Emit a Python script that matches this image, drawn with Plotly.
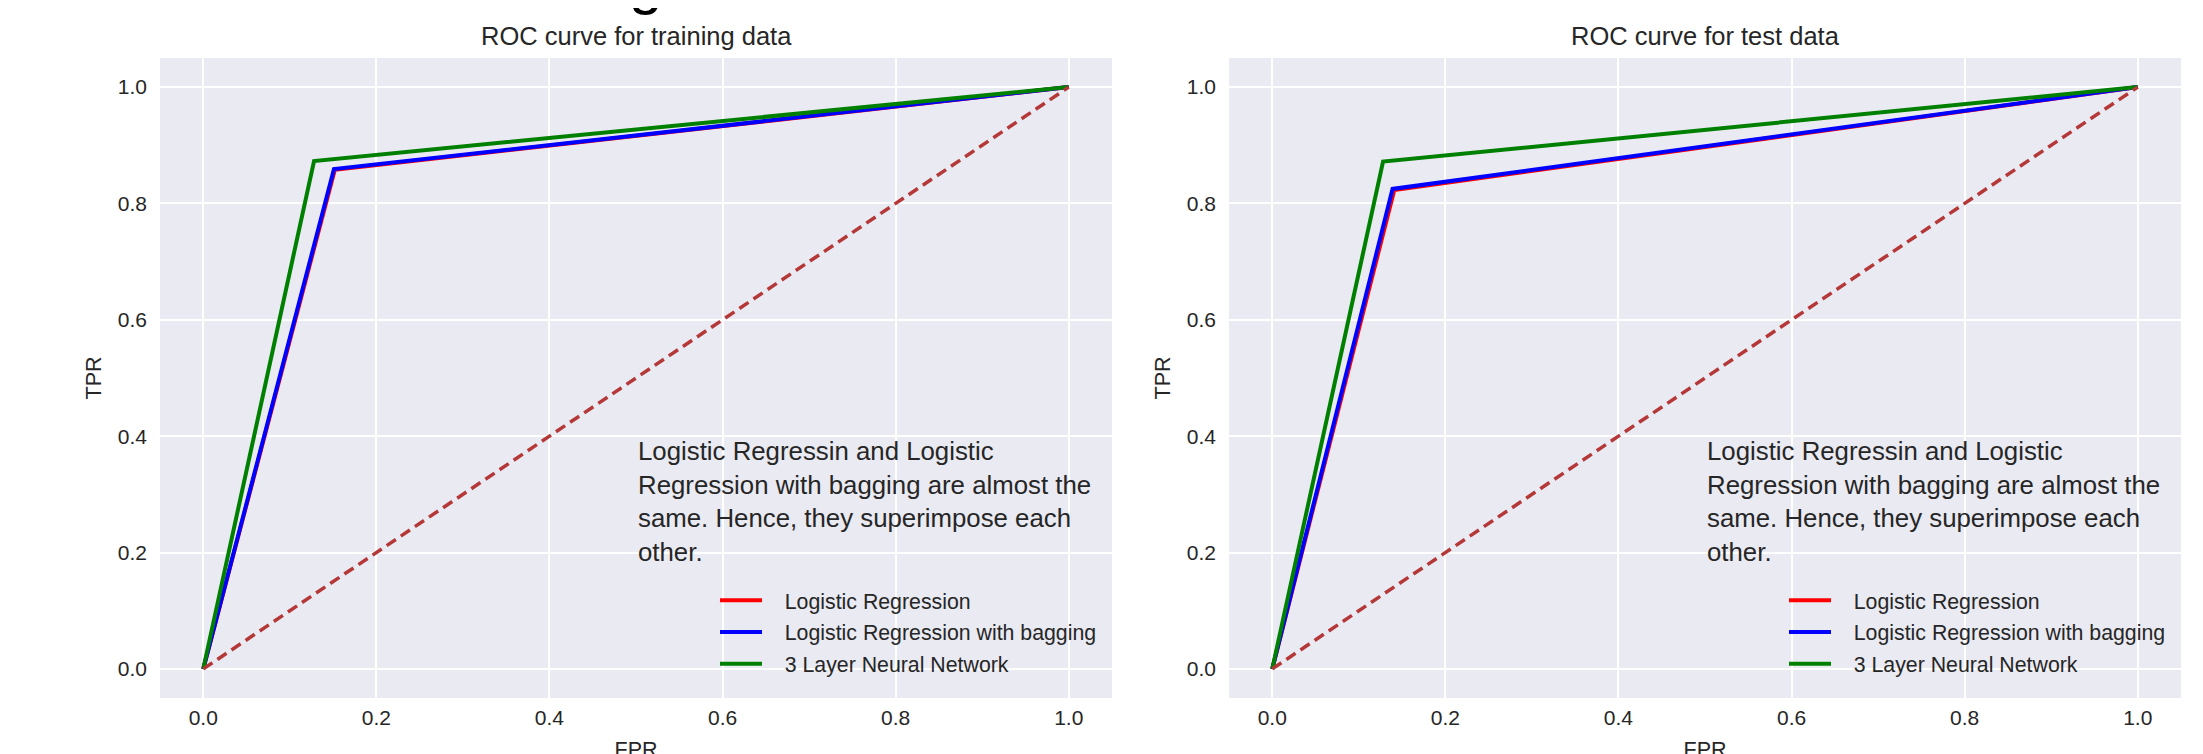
import plotly.graph_objects as go

# ---------------- data ----------------
panel_titles = ["ROC curve for training data", "ROC curve for test data"]
series_names = ["Logistic Regression", "Logistic Regression with bagging", "3 Layer Neural Network"]
series_colors = ["#ff0000", "#0000ff", "#008000"]

train_fpr_lr = [0.0, 0.152, 1.0]
train_tpr_lr = [0.0, 0.858, 1.0]
train_fpr_lrb = [0.0, 0.151, 1.0]
train_tpr_lrb = [0.0, 0.859, 1.0]
train_fpr_nn = [0.0, 0.128, 1.0]
train_tpr_nn = [0.0, 0.873, 1.0]

test_fpr_lr = [0.0, 0.141, 1.0]
test_tpr_lr = [0.0, 0.823, 1.0]
test_fpr_lrb = [0.0, 0.139, 1.0]
test_tpr_lrb = [0.0, 0.825, 1.0]
test_fpr_nn = [0.0, 0.128, 1.0]
test_tpr_nn = [0.0, 0.872, 1.0]

chance_x = [0.0, 1.0]
chance_y = [0.0, 1.0]

tick_vals = [0.0, 0.2, 0.4, 0.6, 0.8, 1.0]
tick_text = ["0.0", "0.2", "0.4", "0.6", "0.8", "1.0"]

note_lines = [
    "Logistic Regressin and Logistic",
    "Regression with bagging are almost the",
    "same. Hence, they superimpose each",
    "other.",
]
note_x, note_y = 0.5, 0.288

# ---------------- figure ----------------
W, H = 2203, 754
OFF = 8  # page body margin around the plot div
FONT = "Liberation Sans, Arial, Helvetica, sans-serif"
TXT = "#262626"
GAP = "\u00a0\u00a0\u00a0"

fig = go.Figure()

panels = [
    ("x", "y", "legend",
     [(train_fpr_lr, train_tpr_lr), (train_fpr_lrb, train_tpr_lrb), (train_fpr_nn, train_tpr_nn)]),
    ("x2", "y2", "legend2",
     [(test_fpr_lr, test_tpr_lr), (test_fpr_lrb, test_tpr_lrb), (test_fpr_nn, test_tpr_nn)]),
]

for xa, ya, leg, curves in panels:
    for i, (fx, ty) in enumerate(curves):
        fig.add_trace(go.Scatter(
            x=fx, y=ty, mode="lines", name=GAP + series_names[i],
            line=dict(color=series_colors[i], width=4),
            xaxis=xa, yaxis=ya, legend=leg, legendgroup=f"{leg}_{i}",
            hoverinfo="skip",
        ))
    fig.add_trace(go.Scatter(
        x=chance_x, y=chance_y, mode="lines", showlegend=False,
        line=dict(color="#b53838", width=3.5, dash="11px,6px"),
        xaxis=xa, yaxis=ya, hoverinfo="skip",
    ))

def px_x(p):
    return (p - OFF) / W

def px_y(p):
    return 1 - (p - OFF) / H

xdom1 = [px_x(160), px_x(1112)]
xdom2 = [px_x(1229), px_x(2181)]
ydom = [px_y(698), px_y(58)]

axis_common = dict(
    range=[-0.05, 1.05], showgrid=True, gridcolor="white", gridwidth=1.8,
    zeroline=False, showline=False, ticks="", tickvals=tick_vals, ticktext=tick_text,
    tickfont=dict(family=FONT, size=21, color=TXT), automargin=False,
)

legend_common = dict(
    xanchor="left", yanchor="top", bgcolor="rgba(0,0,0,0)", borderwidth=0,
    itemwidth=42, tracegroupgap=1, font=dict(family=FONT, size=21.3, color=TXT),
)

fig.update_layout(
    width=W, height=H,
    margin=dict(l=0, r=0, t=0, b=0),
    paper_bgcolor="white", plot_bgcolor="#EAEAF2",
    font=dict(family=FONT, color=TXT),
    xaxis=dict(domain=xdom1, anchor="y", ticklabelstandoff=5,
               title=dict(text="FPR", font=dict(size=21.5, color=TXT), standoff=14), **axis_common),
    yaxis=dict(domain=ydom, anchor="x", ticklabelstandoff=12,
               title=dict(text="TPR", font=dict(size=21.5, color=TXT), standoff=10), **axis_common),
    xaxis2=dict(domain=xdom2, anchor="y2", ticklabelstandoff=5,
                title=dict(text="FPR", font=dict(size=21.5, color=TXT), standoff=14), **axis_common),
    yaxis2=dict(domain=ydom, anchor="x2", ticklabelstandoff=12,
                title=dict(text="TPR", font=dict(size=21.5, color=TXT), standoff=10), **axis_common),
    legend=dict(x=px_x(715), y=px_y(580), **legend_common),
    legend2=dict(x=px_x(715 + 1069), y=px_y(580), **legend_common),
    showlegend=True,
)

annotations = []
for t, dom in zip(panel_titles, [xdom1, xdom2]):
    annotations.append(dict(
        text=t, xref="paper", yref="paper", x=(dom[0] + dom[1]) / 2, y=px_y(52),
        xanchor="center", yanchor="bottom", showarrow=False,
        font=dict(family=FONT, size=25.5, color=TXT),
    ))
for xr, yr in [("x", "y"), ("x2", "y2")]:
    annotations.append(dict(
        text="<br>".join(note_lines), xref=xr, yref=yr, x=note_x, y=note_y,
        xanchor="left", yanchor="middle", align="left", showarrow=False,
        font=dict(family=FONT, size=25.8, color=TXT),
    ))
# cropped heading glyph visible at the very top of the screenshot
annotations.append(dict(
    text="g", xref="paper", yref="paper", x=px_x(645), y=px_y(18),
    xanchor="center", yanchor="bottom", showarrow=False,
    font=dict(family=FONT, size=60, color="black"),
))
fig.update_layout(annotations=annotations)

fig.write_html("out.html")
